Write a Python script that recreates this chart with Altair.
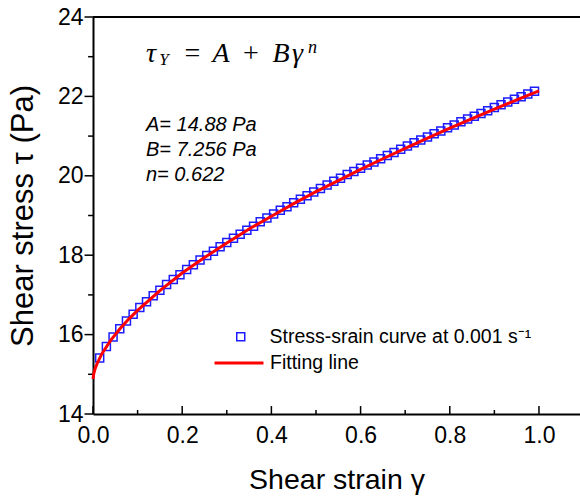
import altair as alt
import pandas as pd

# ---- data ----
strain = [0.015, 0.03, 0.045, 0.06, 0.075, 0.09, 0.105, 0.12, 0.135, 0.15,
          0.165, 0.18, 0.195, 0.21, 0.225, 0.24, 0.255, 0.27, 0.285, 0.3,
          0.315, 0.33, 0.345, 0.36, 0.375, 0.39, 0.405, 0.42, 0.435, 0.45,
          0.465, 0.48, 0.495, 0.51, 0.525, 0.54, 0.555, 0.57, 0.585, 0.6,
          0.615, 0.63, 0.645, 0.66, 0.675, 0.69, 0.705, 0.72, 0.735, 0.75,
          0.765, 0.78, 0.795, 0.81, 0.825, 0.84, 0.855, 0.87, 0.885, 0.9,
          0.915, 0.93, 0.945, 0.96, 0.975, 0.99]
stress = [15.41, 15.70, 15.94, 16.15, 16.34, 16.51, 16.68, 16.83, 16.98, 17.12,
          17.26, 17.39, 17.51, 17.64, 17.76, 17.88, 17.99, 18.10, 18.21, 18.32,
          18.43, 18.53, 18.63, 18.73, 18.84, 18.94, 19.04, 19.13, 19.22, 19.32,
          19.41, 19.50, 19.59, 19.68, 19.77, 19.86, 19.94, 20.03, 20.11, 20.19,
          20.27, 20.35, 20.43, 20.51, 20.59, 20.67, 20.75, 20.83, 20.90, 20.98,
          21.06, 21.13, 21.21, 21.28, 21.36, 21.43, 21.50, 21.57, 21.64, 21.72,
          21.79, 21.86, 21.93, 21.99, 22.06, 22.13]

fit_x = [0.0, 0.002, 0.005, 0.01, 0.02, 0.04, 0.06, 0.08, 0.1, 0.15, 0.2, 0.25,
         0.3, 0.35, 0.4, 0.45, 0.5, 0.55, 0.6, 0.65, 0.7, 0.75, 0.8, 0.85, 0.9,
         0.95, 1.0]
fit_y = [14.88, 15.03, 15.15, 15.29, 15.52, 15.86, 16.14, 16.39, 16.61, 17.11,
         17.55, 17.94, 18.31, 18.66, 18.98, 19.30, 19.60, 19.88, 20.16, 20.43,
         20.69, 20.95, 21.20, 21.44, 21.68, 21.91, 22.14]

x_major = [0.0, 0.2, 0.4, 0.6, 0.8, 1.0]
x_minor = [0.1, 0.3, 0.5, 0.7, 0.9]
y_major = [14, 16, 18, 20, 22, 24]
y_minor = [15, 17, 19, 21, 23]

label_pts = "Stress-srain curve at 0.001 s\u207b\u00b9"
label_fit = "Fitting line"

params = ["A= 14.88 Pa", "B= 7.256 Pa", "n= 0.622"]

FONT = "Liberation Sans"
SERIF = "Liberation Serif"

df_pts = pd.DataFrame({"x": strain, "y": stress, "s": label_pts})
df_fit = pd.DataFrame({"x": fit_x, "y": fit_y, "s": label_fit})

xsc = alt.Scale(domain=[0, 1.092], nice=False, zero=False)
ysc = alt.Scale(domain=[14, 24], nice=False, zero=False)

x_axis = alt.Axis(values=x_major, format=".1f", ticks=False, grid=False,
                  domainColor="black", domainWidth=2, labelFontSize=23,
                  labelFont=FONT, labelColor="black", labelPadding=10,
                  title="Shear strain \u03b3", titleFont=FONT, titleFontSize=28.5,
                  titleFontWeight="normal", titleColor="black", titlePadding=18,
                  labelFlush=False)
y_axis = alt.Axis(values=y_major, format="d", ticks=False, grid=False,
                  domainColor="black", domainWidth=2, labelFontSize=23,
                  labelFont=FONT, labelColor="black", labelPadding=10,
                  title="Shear stress \u03c4 (Pa)", titleFont=FONT, titleFontSize=31,
                  titleFontWeight="normal", titleColor="black", titlePadding=18)


def X(field):
    return alt.X(field, scale=xsc, axis=x_axis)


def Y(field):
    return alt.Y(field, scale=ysc, axis=y_axis)


pts = alt.Chart(df_pts).mark_point(shape="square", filled=False, size=64,
                                   strokeWidth=1.5, opacity=1).encode(
    x=X("x:Q"), y=Y("y:Q"),
    color=alt.Color("s:N", scale=alt.Scale(domain=[label_pts], range=["#1c1cff"]),
                    legend=alt.Legend(orient="none", legendX=138, legendY=310,
                                      title=None, labelFontSize=19.5, labelFont=FONT,
                                      labelColor="black", symbolType="square",
                                      symbolSize=64, symbolStrokeWidth=1.5,
                                      labelOffset=19, padding=0, labelLimit=0)),
)

fit = alt.Chart(df_fit).mark_line(strokeWidth=3).encode(
    x=X("x:Q"), y=Y("y:Q"),
    color=alt.Color("s:N", scale=alt.Scale(domain=[label_fit], range=["#ff0000"]),
                    legend=alt.Legend(orient="none", legendX=120, legendY=320,
                                      title=None, labelFontSize=19.5, labelFont=FONT,
                                      labelColor="black", symbolType="stroke",
                                      symbolSize=2400, symbolStrokeWidth=3,
                                      labelOffset=5, padding=0, labelLimit=0)),
)

top_border = alt.Chart(pd.DataFrame({"v": [24]})).mark_rule(
    color="black", strokeWidth=2).encode(y=Y("v:Q"))

xt_major = alt.Chart(pd.DataFrame({"t": x_major, "a": 14, "b": 14.2})).mark_rule(
    color="black", strokeWidth=1.5).encode(x=X("t:Q"), y=Y("a:Q"), y2="b:Q")
xt_minor = alt.Chart(pd.DataFrame({"t": x_minor, "a": 14, "b": 14.1})).mark_rule(
    color="black", strokeWidth=1.5).encode(x=X("t:Q"), y=Y("a:Q"), y2="b:Q")
yt_major = alt.Chart(pd.DataFrame({"t": y_major, "a": 0.0, "b": -0.019})).mark_rule(
    color="black", strokeWidth=1.5, clip=False).encode(y=Y("t:Q"), x=X("a:Q"), x2="b:Q")
yt_minor = alt.Chart(pd.DataFrame({"t": y_minor, "a": 0.0, "b": -0.011})).mark_rule(
    color="black", strokeWidth=1.5, clip=False).encode(y=Y("t:Q"), x=X("a:Q"), x2="b:Q")

# equation pieces (annotation, pixel positions, centred)
eq = []
for txt, px, py, fs, st in [("\u03c4", 58, 45, 28, "italic"), ("Y", 71, 48, 17, "italic"),
                            ("=", 99.5, 45, 28, "normal"), ("A", 128, 45, 28, "italic"),
                            ("+", 158, 45, 28, "normal"), ("B", 188, 45, 28, "italic"),
                            ("\u03b3", 204.5, 45, 28, "italic"), ("n", 219.5, 36, 18, "italic")]:
    eq.append(alt.Chart(pd.DataFrame({"t": [txt]})).mark_text(
        font=SERIF, fontStyle=st, fontSize=fs, align="center",
        baseline="alphabetic", color="black").encode(
        text="t:N", x=alt.value(px), y=alt.value(py)))

par = []
for txt, py in zip(params, [108, 133, 158]):
    par.append(alt.Chart(pd.DataFrame({"t": [txt]})).mark_text(
        font=FONT, fontStyle="italic", fontSize=20, align="left", baseline="middle",
        color="black").encode(text="t:N", x=alt.value(53), y=alt.value(py)))

chart = alt.layer(pts, top_border, xt_major, xt_minor, yt_major, yt_minor, fit,
                  *eq, *par).resolve_scale(color="independent").properties(
    width=487, height=397,
    autosize=alt.AutoSizeParams(type="none"),
    padding={"left": 93, "top": 17, "right": 0, "bottom": 83},
    background="white",
).configure_view(stroke=None)

chart.save("out.html", embed_options={"renderer": "svg", "actions": False})
